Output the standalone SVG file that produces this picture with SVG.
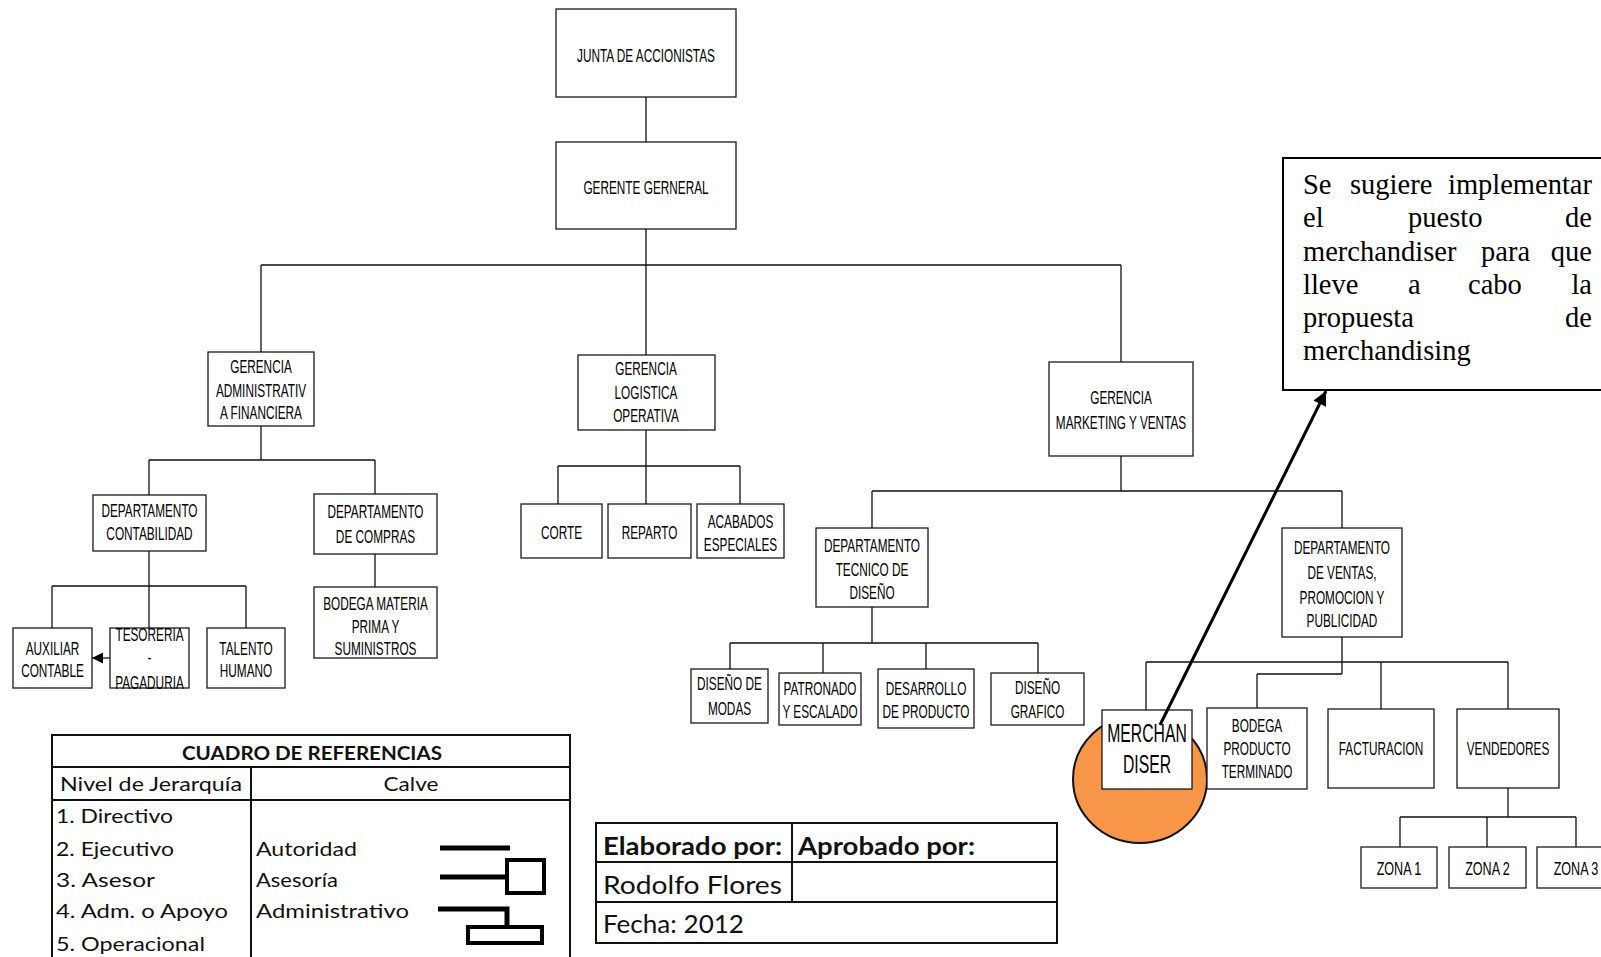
<svg xmlns="http://www.w3.org/2000/svg" width="1601" height="957" viewBox="0 0 1601 957">
<defs>
<style>
.box{fill:#fff;stroke:#1a1a1a;stroke-width:1.3}
.t{font-family:"Liberation Sans",Arial,sans-serif;font-size:18.5px;text-anchor:middle;fill:#000}
.ln{stroke:#111;stroke-width:1.3;fill:none}
.tb{fill:none;stroke:#111;stroke-width:2}
.c{font-family:Lato,"Liberation Sans",sans-serif;fill:#111}
.note{font-family:"Liberation Serif","Times New Roman",serif;font-size:28.5px;fill:#000}
.sym{stroke:#000;fill:none}
</style>
<marker id="ahs" viewBox="0 0 10 10" refX="10" refY="5" markerWidth="11" markerHeight="12" markerUnits="userSpaceOnUse" orient="auto"><path d="M0,0 L10,5 L0,10 z" fill="#000"/></marker>
<marker id="ahb" viewBox="0 0 10 10" refX="10" refY="5" markerWidth="17" markerHeight="14" markerUnits="userSpaceOnUse" orient="auto"><path d="M0,0 L10,5 L0,10 z" fill="#000"/></marker>
</defs>
<rect width="1601" height="957" fill="#fff"/>

<g id="n-junta"><rect class="box" x="556" y="9" width="180" height="88"/><text class="t" transform="translate(646 0) scale(0.638 1)"><tspan x="0" y="62">JUNTA DE ACCIONISTAS</tspan></text></g>
<g id="n-gerente"><rect class="box" x="556" y="142" width="180" height="87"/><text class="t" transform="translate(646 0) scale(0.638 1)"><tspan x="0" y="194">GERENTE GERNERAL</tspan></text></g>
<g id="n-admin"><rect class="box" x="208" y="352" width="106" height="74"/><text class="t" transform="translate(261 0) scale(0.638 1)"><tspan x="0" y="373">GERENCIA</tspan><tspan x="0" y="397">ADMINISTRATIV</tspan><tspan x="0" y="419">A FINANCIERA</tspan></text></g>
<g id="n-logistica"><rect class="box" x="578" y="355" width="137" height="75"/><text class="t" transform="translate(646 0) scale(0.638 1)"><tspan x="0" y="375">GERENCIA</tspan><tspan x="0" y="399">LOGISTICA</tspan><tspan x="0" y="422">OPERATIVA</tspan></text></g>
<g id="n-marketing"><rect class="box" x="1049" y="362" width="144" height="94"/><text class="t" transform="translate(1121 0) scale(0.638 1)"><tspan x="0" y="404">GERENCIA</tspan><tspan x="0" y="429">MARKETING Y VENTAS</tspan></text></g>
<g id="n-contabilidad"><rect class="box" x="93" y="495" width="113" height="56"/><text class="t" transform="translate(149.5 0) scale(0.638 1)"><tspan x="0" y="517">DEPARTAMENTO</tspan><tspan x="0" y="540">CONTABILIDAD</tspan></text></g>
<g id="n-compras"><rect class="box" x="314" y="494" width="123" height="60"/><text class="t" transform="translate(375.5 0) scale(0.638 1)"><tspan x="0" y="518">DEPARTAMENTO</tspan><tspan x="0" y="543">DE COMPRAS</tspan></text></g>
<g id="n-bodega-mp"><rect class="box" x="314" y="587" width="123" height="71"/><text class="t" transform="translate(375.5 0) scale(0.638 1)"><tspan x="0" y="610">BODEGA MATERIA</tspan><tspan x="0" y="633">PRIMA Y</tspan><tspan x="0" y="655">SUMINISTROS</tspan></text></g>
<g id="n-auxiliar"><rect class="box" x="13" y="628" width="79" height="60"/><text class="t" transform="translate(52.5 0) scale(0.638 1)"><tspan x="0" y="655">AUXILIAR</tspan><tspan x="0" y="677">CONTABLE</tspan></text></g>
<g id="n-tesoreria"><rect class="box" x="110" y="628" width="79" height="60"/><text class="t" transform="translate(149.5 0) scale(0.638 1)"><tspan x="0" y="641">TESORERIA</tspan><tspan x="0" y="664">-</tspan><tspan x="0" y="689">PAGADURIA</tspan></text></g>
<g id="n-talento"><rect class="box" x="207" y="628" width="78" height="60"/><text class="t" transform="translate(246 0) scale(0.638 1)"><tspan x="0" y="655">TALENTO</tspan><tspan x="0" y="677">HUMANO</tspan></text></g>
<g id="n-corte"><rect class="box" x="521" y="504" width="81" height="54"/><text class="t" transform="translate(561.5 0) scale(0.638 1)"><tspan x="0" y="539">CORTE</tspan></text></g>
<g id="n-reparto"><rect class="box" x="608" y="504" width="83" height="54"/><text class="t" transform="translate(649.5 0) scale(0.638 1)"><tspan x="0" y="539">REPARTO</tspan></text></g>
<g id="n-acabados"><rect class="box" x="697" y="504" width="87" height="54"/><text class="t" transform="translate(740.5 0) scale(0.638 1)"><tspan x="0" y="528">ACABADOS</tspan><tspan x="0" y="551">ESPECIALES</tspan></text></g>
<g id="n-tecnico"><rect class="box" x="816" y="528" width="112" height="79"/><text class="t" transform="translate(872 0) scale(0.638 1)"><tspan x="0" y="552">DEPARTAMENTO</tspan><tspan x="0" y="576">TECNICO DE</tspan><tspan x="0" y="599">DISEÑO</tspan></text></g>
<g id="n-modas"><rect class="box" x="691" y="669" width="77" height="54"/><text class="t" transform="translate(729.5 0) scale(0.638 1)"><tspan x="0" y="690">DISEÑO DE</tspan><tspan x="0" y="715">MODAS</tspan></text></g>
<g id="n-patronado"><rect class="box" x="779" y="673" width="82" height="52"/><text class="t" transform="translate(820 0) scale(0.638 1)"><tspan x="0" y="695">PATRONADO</tspan><tspan x="0" y="718">Y ESCALADO</tspan></text></g>
<g id="n-desarrollo"><rect class="box" x="878" y="669" width="96" height="59"/><text class="t" transform="translate(926 0) scale(0.638 1)"><tspan x="0" y="695">DESARROLLO</tspan><tspan x="0" y="718">DE PRODUCTO</tspan></text></g>
<g id="n-grafico"><rect class="box" x="991" y="673" width="93" height="52"/><text class="t" transform="translate(1037.5 0) scale(0.638 1)"><tspan x="0" y="694">DISEÑO</tspan><tspan x="0" y="718">GRAFICO</tspan></text></g>
<g id="n-ventas"><rect class="box" x="1282" y="528" width="120" height="109"/><text class="t" transform="translate(1342 0) scale(0.638 1)"><tspan x="0" y="554">DEPARTAMENTO</tspan><tspan x="0" y="579">DE VENTAS,</tspan><tspan x="0" y="604">PROMOCION Y</tspan><tspan x="0" y="627">PUBLICIDAD</tspan></text></g>
<g id="n-merchandiser"><ellipse cx="1140" cy="779" rx="67" ry="64" fill="#F79646" stroke="#111" stroke-width="2"/><rect class="box" x="1102" y="710" width="90" height="79"/><text class="t" style="font-size:25px" transform="translate(1147 0) scale(0.63 1)"><tspan x="0" y="742">MERCHAN</tspan><tspan x="0" y="773">DISER</tspan></text></g>
<g id="n-bodega-pt"><rect class="box" x="1207" y="708" width="100" height="81"/><text class="t" transform="translate(1257 0) scale(0.638 1)"><tspan x="0" y="732">BODEGA</tspan><tspan x="0" y="755">PRODUCTO</tspan><tspan x="0" y="778">TERMINADO</tspan></text></g>
<g id="n-facturacion"><rect class="box" x="1328" y="709" width="106" height="79"/><text class="t" transform="translate(1381 0) scale(0.638 1)"><tspan x="0" y="755">FACTURACION</tspan></text></g>
<g id="n-vendedores"><rect class="box" x="1457" y="709" width="102" height="79"/><text class="t" transform="translate(1508 0) scale(0.638 1)"><tspan x="0" y="755">VENDEDORES</tspan></text></g>
<g id="n-zona1"><rect class="box" x="1361" y="847" width="76" height="41"/><text class="t" transform="translate(1399 0) scale(0.68 1)"><tspan x="0" y="875">ZONA 1</tspan></text></g>
<g id="n-zona2"><rect class="box" x="1449" y="847" width="77" height="41"/><text class="t" transform="translate(1487.5 0) scale(0.68 1)"><tspan x="0" y="875">ZONA 2</tspan></text></g>
<g id="n-zona3"><rect class="box" x="1537" y="847" width="78" height="41"/><text class="t" transform="translate(1576 0) scale(0.68 1)"><tspan x="0" y="875">ZONA 3</tspan></text></g>

<g id="connectors">
<path class="ln" d="M646,97V142 M646,229V355 M261,265H1121 M261,265V352 M1121,265V362"/>
<path class="ln" d="M261,426V460 M149,460H375 M149,460V495 M375,460V494 M375,554V587"/>
<path class="ln" d="M149,551V628 M52,586H246 M52,586V628 M246,586V628"/>
<path class="ln" d="M110,658H92" marker-end="url(#ahs)"/>
<path class="ln" d="M646,430V504 M558,466H740 M558,466V504 M740,466V504"/>
<path class="ln" d="M1121,456V491 M872,491H1342 M872,491V528 M1342,491V528"/>
<path class="ln" d="M872,607V643 M730,643H1038 M730,643V669 M823,643V673 M926,643V669 M1038,643V673"/>
<path class="ln" d="M1342,637V674 M1257,674H1342 M1257,674V708 M1146,662H1508 M1146,662V710 M1381,662V709 M1508,662V709"/>
<path class="ln" d="M1508,788V817 M1400,817H1576 M1400,817V847 M1487,817V847 M1576,817V847"/>
</g>

<g id="n-nota">
<rect x="1283" y="158" width="330" height="232" fill="#fff" stroke="#000" stroke-width="2"/>
<text class="note" y="194"><tspan x="1303">Se</tspan><tspan x="1350">sugiere</tspan><tspan x="1592" text-anchor="end">implementar</tspan></text>
<text class="note" y="227"><tspan x="1303">el</tspan><tspan x="1408">puesto</tspan><tspan x="1592" text-anchor="end">de</tspan></text>
<text class="note" y="260.5"><tspan x="1303">merchandiser</tspan><tspan x="1481">para</tspan><tspan x="1592" text-anchor="end">que</tspan></text>
<text class="note" y="293.5"><tspan x="1303">lleve</tspan><tspan x="1408">a</tspan><tspan x="1468">cabo</tspan><tspan x="1592" text-anchor="end">la</tspan></text>
<text class="note" y="327"><tspan x="1303">propuesta</tspan><tspan x="1592" text-anchor="end">de</tspan></text>
<text class="note" y="360"><tspan x="1303">merchandising</tspan></text>
</g>

<g id="connector-nota">
<path d="M1160,725L1326,391" stroke="#000" stroke-width="3" fill="none" marker-end="url(#ahb)"/>
</g>

<g id="cuadro-referencias">
<rect class="tb" x="52" y="735" width="518" height="240"/>
<path class="tb" d="M52,767H570 M52,800H570 M251,767V960"/>
<text class="c" x="312" y="760" text-anchor="middle" font-weight="bold" font-size="19" textLength="260" lengthAdjust="spacingAndGlyphs">CUADRO DE REFERENCIAS</text>
<text class="c" x="60" y="791" font-size="19" textLength="182" lengthAdjust="spacingAndGlyphs">Nivel de Jerarquía</text>
<text class="c" x="411" y="791" text-anchor="middle" font-size="19" textLength="55" lengthAdjust="spacingAndGlyphs">Calve</text>
<text class="c" x="56" y="823" font-size="19" textLength="117" lengthAdjust="spacingAndGlyphs">1. Directivo</text>
<text class="c" x="56" y="856" font-size="19" textLength="118" lengthAdjust="spacingAndGlyphs">2. Ejecutivo</text>
<text class="c" x="56" y="887" font-size="19" textLength="99" lengthAdjust="spacingAndGlyphs">3. Asesor</text>
<text class="c" x="56" y="918" font-size="19" textLength="172" lengthAdjust="spacingAndGlyphs">4. Adm. o Apoyo</text>
<text class="c" x="56" y="951" font-size="19" textLength="149" lengthAdjust="spacingAndGlyphs">5. Operacional</text>
<text class="c" x="256" y="856" font-size="19" textLength="101" lengthAdjust="spacingAndGlyphs">Autoridad</text>
<text class="c" x="256" y="887" font-size="19" textLength="82" lengthAdjust="spacingAndGlyphs">Asesoría</text>
<text class="c" x="256" y="918" font-size="19" textLength="153" lengthAdjust="spacingAndGlyphs">Administrativo</text>
<path class="sym" stroke-width="5" d="M440,848H510 M440,877H507 M438,909H507V927"/>
<rect class="sym" stroke-width="4" x="507" y="860" width="37" height="33"/>
<rect class="sym" stroke-width="4" x="468" y="927" width="74" height="16"/>
</g>

<g id="firmas">
<rect class="tb" x="596" y="823" width="461" height="120"/>
<path class="tb" d="M596,862H1057 M596,902H1057 M792,823V902"/>
<text class="c" x="603" y="855" font-size="25" font-weight="bold" textLength="179" lengthAdjust="spacingAndGlyphs">Elaborado por:</text>
<text class="c" x="798" y="855" font-size="25" font-weight="bold" textLength="177" lengthAdjust="spacingAndGlyphs">Aprobado por:</text>
<text class="c" x="603" y="894" font-size="25" textLength="179" lengthAdjust="spacingAndGlyphs">Rodolfo Flores</text>
<text class="c" x="603" y="933" font-size="25" textLength="141" lengthAdjust="spacingAndGlyphs">Fecha: 2012</text>
</g>
</svg>
